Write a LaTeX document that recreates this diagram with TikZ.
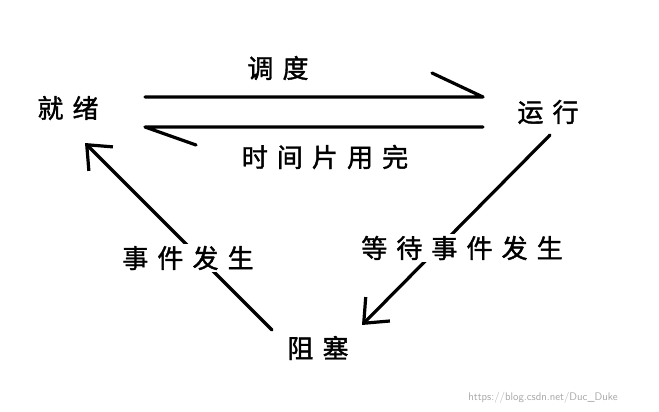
\documentclass[tikz,border=0pt]{standalone}
\usepackage{fontspec}
\newfontfamily\cjk[LetterSpace=35,FakeBold=1.5]{Noto Sans CJK SC}
\usetikzlibrary{arrows.meta}
\begin{document}
\begin{tikzpicture}[x=1pt,y=-1pt,
  lbl/.style={font=\cjk\fontsize{26}{30}\selectfont,inner sep=2pt},
  ln/.style={line width=3.2pt,line cap=round,line join=round},
  arr/.style={ln,-{Straight Barb[length=20pt,width=34pt,line width=3.2pt]}}]
\useasboundingbox (0,0) rectangle (659,412);
\node[lbl] (jx) at (68,108) {就绪};
\node[lbl] (yx) at (548,112) {运行};
\node[lbl] (zs) at (318,348) {阻塞};
\node[lbl] at (278,68) {调度};
\node[lbl] at (325,157) {时间片用完};
\coordinate (c1) at (550,135); \coordinate (c2) at (362,325);
\draw[arr] (c1) -- (c2);
\coordinate (d1) at (272,330); \coordinate (d2) at (85,143);
\draw[arr] (d1) -- (d2);
\node[lbl,fill=white] at (462,248) {等待事件发生};
\node[lbl,fill=white] at (188,258) {事件发生};
\node[font=\sffamily\fontsize{11}{13}\selectfont,text=gray!70] at (543,398) {https://blog.csdn.net/Duc\_Duke};
\coordinate (a1) at (145,97); \coordinate (a2) at (483,97); \coordinate (a3) at (432,73);
\coordinate (b1) at (483,127); \coordinate (b2) at (145,127); \coordinate (b3) at (196,145);
\draw[ln] (a1) -- (a2) -- (a3);
\draw[ln] (b1) -- (b2) -- (b3);
\end{tikzpicture}
\end{document}
